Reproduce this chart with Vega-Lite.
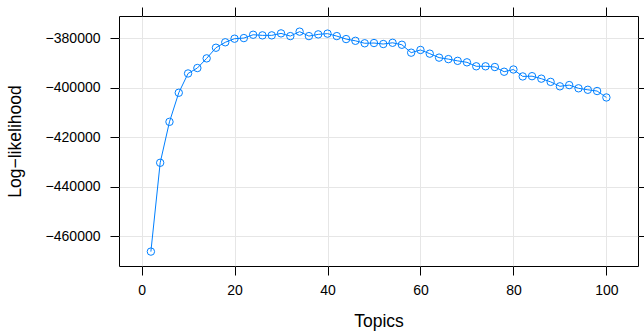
{
  "$schema": "https://vega.github.io/schema/vega-lite/v6.json",
  "width": 519,
  "height": 250,
  "autosize": "none",
  "padding": {"left": 119, "top": 16, "right": 6, "bottom": 69},
  "background": "white",
  "config": {
    "font": "Liberation Sans",
    "view": {"stroke": "#000000", "strokeWidth": 1},
    "axis": {
      "domain": false,
      "tickColor": "#000000",
      "tickSize": 9,
      "labelColor": "#000000",
      "labelFontSize": 14,
      "labelFont": "Liberation Sans",
      "titleFont": "Liberation Sans",
      "titleFontSize": 17.5,
      "titleFontWeight": "normal",
      "titleColor": "#000000",
      "gridColor": "#e6e6e6",
      "gridWidth": 1
    }
  },
  "data": {
    "values": [
      {"topics": 2, "ll": -466200},
      {"topics": 4, "ll": -430300},
      {"topics": 6, "ll": -413750},
      {"topics": 8, "ll": -402000},
      {"topics": 10, "ll": -394200},
      {"topics": 12, "ll": -392000},
      {"topics": 14, "ll": -388100},
      {"topics": 16, "ll": -383800},
      {"topics": 18, "ll": -381600},
      {"topics": 20, "ll": -380150},
      {"topics": 22, "ll": -379900},
      {"topics": 24, "ll": -378550},
      {"topics": 26, "ll": -378800},
      {"topics": 28, "ll": -378800},
      {"topics": 30, "ll": -378000},
      {"topics": 32, "ll": -379100},
      {"topics": 34, "ll": -377300},
      {"topics": 36, "ll": -379100},
      {"topics": 38, "ll": -378400},
      {"topics": 40, "ll": -378100},
      {"topics": 42, "ll": -379100},
      {"topics": 44, "ll": -380300},
      {"topics": 46, "ll": -381000},
      {"topics": 48, "ll": -382000},
      {"topics": 50, "ll": -381900},
      {"topics": 52, "ll": -382300},
      {"topics": 54, "ll": -381800},
      {"topics": 56, "ll": -382600},
      {"topics": 58, "ll": -385800},
      {"topics": 60, "ll": -384700},
      {"topics": 62, "ll": -386200},
      {"topics": 64, "ll": -387800},
      {"topics": 66, "ll": -388400},
      {"topics": 68, "ll": -389100},
      {"topics": 70, "ll": -389700},
      {"topics": 72, "ll": -391300},
      {"topics": 74, "ll": -391300},
      {"topics": 76, "ll": -391600},
      {"topics": 78, "ll": -393500},
      {"topics": 80, "ll": -392600},
      {"topics": 82, "ll": -395400},
      {"topics": 84, "ll": -395300},
      {"topics": 86, "ll": -396300},
      {"topics": 88, "ll": -397600},
      {"topics": 90, "ll": -399400},
      {"topics": 92, "ll": -398900},
      {"topics": 94, "ll": -400200},
      {"topics": 96, "ll": -400800},
      {"topics": 98, "ll": -401300},
      {"topics": 100, "ll": -403900}
    ]
  },
  "layer": [
    {
      "mark": {"type": "line", "color": "#0080ff", "strokeWidth": 1},
      "encoding": {
        "x": {
          "field": "topics", "type": "quantitative",
          "scale": {"domain": [-4.86, 106.8], "nice": false, "zero": false},
          "axis": {
            "orient": "bottom", "title": "Topics", "values": [0, 20, 40, 60, 80, 100],
            "labelPadding": 8, "titlePadding": 15, "grid": true
          }
        },
        "y": {
          "field": "ll", "type": "quantitative",
          "scale": {"domain": [-472020, -370975], "nice": false, "zero": false},
          "axis": {
            "orient": "left", "title": "Log−likelihood", "format": "d",
            "values": [-460000, -440000, -420000, -400000, -380000],
            "labelPadding": 10, "titlePadding": 21, "grid": true
          }
        }
      }
    },
    {
      "mark": {"type": "point", "shape": "circle", "filled": false, "color": "#0080ff", "strokeWidth": 1, "size": 55, "opacity": 1},
      "encoding": {
        "x": {
          "field": "topics", "type": "quantitative",
          "axis": {"orient": "top", "title": null, "labels": false, "grid": false, "values": [0, 20, 40, 60, 80, 100]}
        },
        "y": {
          "field": "ll", "type": "quantitative",
          "axis": {"orient": "right", "title": null, "labels": false, "grid": false, "values": [-460000, -440000, -420000, -400000, -380000]}
        }
      }
    }
  ],
  "resolve": {"axis": {"x": "independent", "y": "independent"}}
}
